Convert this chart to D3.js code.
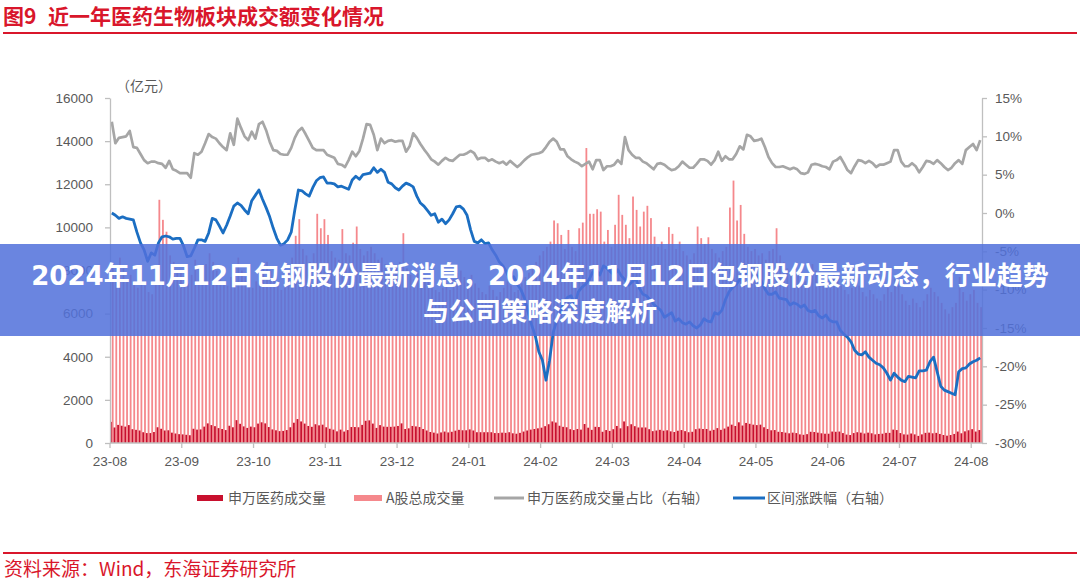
<!DOCTYPE html>
<html><head><meta charset="utf-8">
<script src="https://cdn.jsdelivr.net/npm/d3@7"></script>
<style>
html,body{margin:0;padding:0;background:#fff;}
svg{display:block;}
</style></head><body>
<svg id="chart" width="1080" height="583"></svg>
<script>
const titleText = ["图9", "近一年医药生物板块成交额变化情况"];
const sourceText = "资料来源：Wind，东海证券研究所";
const unitText = "（亿元）";
const bannerLines = ["2024年11月12日包钢股份最新消息，2024年11月12日包钢股份最新动态，行业趋势", "与公司策略深度解析"];
const seriesNames = ["申万医药成交量", "A股总成交量", "申万医药成交量占比（右轴）", "区间涨跌幅（右轴）"];
const tickLabels = ["23-08","23-09","23-10","23-11","23-12","24-01","24-02","24-03","24-04","24-05","24-06","24-07","24-08"];
const tickEvery = 20;
const leftTicks = [0,2000,4000,6000,8000,10000,12000,14000,16000];
const rightTicks = [-30,-25,-20,-15,-10,-5,0,5,10,15];

// A股总成交量 (亿元), one per trading day
const totalVolume = [8200,7900,8600,8100,7600,7800,7400,7200,7500,7300,
7000,6900,7600,11280,10350,9800,8700,8400,8000,7900,
7600,7400,7800,8500,8100,7900,8300,8800,8400,8000,
7600,7500,7300,7700,8200,8600,8000,7700,7400,7200,
7500,7800,8100,8400,8000,7700,7300,7100,7400,7900,
8600,9610,10380,9000,8700,8400,8800,10630,9960,10380,
9650,8900,8600,8500,9920,8800,8700,9290,10040,9000,
8700,8900,9100,8800,8500,8600,8300,8000,7900,8200,
8400,9730,8100,7800,7600,7900,8200,7800,7500,7300,
7100,7000,7200,7400,7100,7600,7900,8000,7700,7500,
7800,7400,7200,7000,6900,7300,7100,6800,7000,7200,
7500,7300,7000,7100,7400,7700,7900,8200,8400,8700,
8900,9100,9340,10320,10190,9650,9000,9880,9100,8900,
9960,10220,13680,10630,10630,10840,10730,9340,9880,9100,
10120,11510,10580,10120,9500,11430,10810,10040,10730,11000,
10430,9570,9100,9340,9000,10010,9700,9000,9340,8900,
8700,8500,8800,10040,9500,9230,9540,9000,8800,8600,
8900,9100,10920,12170,10320,11040,9700,9100,8900,9000,
8700,8800,8500,8900,9000,9960,8700,8400,8100,7900,
8200,8000,7700,7500,7800,8300,8000,7600,7400,7200,
7500,7900,7600,7300,7100,6900,7200,7500,7300,7000,
6800,7100,6900,6700,6600,6900,7200,7000,7600,7300,
6900,6600,6400,6700,6500,6300,6600,6900,7200,7000,
6800,6500,6200,6000,6300,6500,7700,7000,6600,6900,
7100,6500,6300];

// 申万医药成交量 (亿元)
const medVolume = [980,720,840,800,760,830,640,610,580,500,
460,460,510,730,660,580,590,480,440,410,
400,380,360,660,620,630,760,910,830,780,
690,650,600,800,730,1060,890,770,700,760,
730,900,960,910,740,630,590,550,560,600,
730,940,1110,1000,900,790,750,870,820,850,
730,660,620,540,620,530,600,740,740,730,
840,1030,1050,900,700,830,760,750,750,760,
790,910,650,680,790,770,740,650,580,510,
480,440,490,530,490,520,570,610,590,590,
630,580,500,500,500,500,500,460,460,480,
470,500,450,430,470,530,580,620,650,680,
710,780,870,1000,950,800,750,730,640,600,
650,620,880,710,610,750,740,520,600,560,
640,790,680,1000,780,870,780,720,720,720,
640,550,580,610,570,590,540,510,570,600,
550,500,520,640,670,650,650,570,610,690,
610,670,760,850,790,960,810,930,890,850,
830,850,730,650,590,600,520,510,480,450,
480,460,400,380,410,520,510,480,450,430,
430,530,520,530,460,390,370,460,500,480,
440,480,450,400,420,430,470,470,620,600,
460,400,390,440,400,330,400,470,480,450,
470,420,370,340,370,420,530,450,540,590,
640,530,600];

// 申万医药成交量占比 (%), right axis
const medShare = [11.9,9.1,9.8,9.9,10.0,10.7,8.6,8.5,7.7,6.9,
6.5,6.7,6.7,6.5,6.4,5.9,6.8,5.7,5.5,5.2,
5.2,5.2,4.6,7.8,7.6,8.0,9.1,10.3,9.9,9.7,
9.1,8.6,8.2,10.4,8.9,12.3,11.1,10.0,9.5,10.6,
9.7,11.6,11.9,10.8,9.3,8.2,8.1,7.7,7.6,7.6,
8.5,9.8,10.7,11.1,10.3,9.4,8.5,8.2,8.2,8.2,
7.6,7.4,7.2,6.4,6.3,6.0,6.9,8.0,7.4,8.1,
9.7,11.6,11.5,10.2,8.2,9.7,9.1,9.4,9.5,9.3,
9.4,9.4,8.0,8.7,10.4,9.8,9.0,8.3,7.7,7.0,
6.7,6.3,6.8,7.2,6.9,6.8,7.2,7.6,7.6,7.8,
8.1,7.8,7.0,7.2,7.2,6.8,7.0,6.7,6.5,6.7,
6.3,6.8,6.4,6.0,6.4,6.9,7.3,7.6,7.7,7.8,
8.0,8.6,9.3,9.7,9.3,8.3,8.3,7.4,7.0,6.7,
6.5,6.1,6.4,6.7,5.7,6.9,6.9,5.6,6.1,6.1,
6.3,6.9,6.4,9.9,8.2,7.6,7.2,7.2,6.7,6.5,
6.1,5.7,6.4,6.5,6.3,5.9,5.6,5.7,6.1,6.7,
6.3,5.9,5.9,6.4,7.0,7.0,6.8,6.3,6.9,8.0,
6.8,7.4,7.0,7.0,7.7,8.7,8.3,10.2,10.0,9.4,
9.5,9.7,8.6,7.3,6.5,6.0,6.0,6.1,5.9,5.7,
5.9,5.7,5.2,5.1,5.3,6.3,6.4,6.3,6.1,6.0,
5.7,6.7,6.9,7.3,6.5,5.6,5.2,6.1,6.9,6.8,
6.5,6.8,6.5,6.0,6.3,6.3,6.5,6.7,8.2,8.2,
6.7,6.1,6.1,6.5,6.1,5.3,6.0,6.8,6.7,6.4,
6.9,6.5,6.0,5.6,5.9,6.5,6.9,6.4,8.2,8.6,
9.0,8.2,9.5];

// 区间涨跌幅 (%), right axis
const intervalReturn = [0.0,-0.3,-0.7,-0.5,-0.7,-0.8,-0.9,-2.5,-3.9,-4.8,
-6.3,-5.2,-5.5,-3.9,-3.1,-3.0,-3.1,-3.4,-3.3,-3.3,
-4.3,-5.7,-5.6,-4.6,-3.5,-3.5,-3.7,-2.6,-0.7,-0.9,
-1.7,-2.6,-1.6,-0.4,0.9,1.3,1.0,0.4,-0.1,1.6,
2.3,3.0,1.8,0.7,-0.5,-2.0,-3.3,-4.2,-4.0,-3.5,
-2.5,0.4,3.0,2.9,2.5,2.2,3.3,4.2,4.6,4.7,
3.9,3.9,3.8,3.4,3.5,3.3,3.1,4.3,4.8,4.4,
5.0,5.1,5.2,5.9,5.3,5.7,5.3,4.0,3.8,3.3,
3.0,3.5,3.9,3.7,3.4,2.2,1.3,0.9,0.3,-0.3,
-0.1,-1.2,-0.8,-1.4,-0.9,-0.1,0.8,0.9,0.5,-0.3,
-2.2,-3.7,-3.9,-3.5,-4.0,-3.9,-4.8,-5.5,-6.4,-6.9,
-7.7,-8.7,-8.3,-9.3,-10.0,-11.1,-12.9,-14.6,-16.0,-18.1,
-19.2,-21.8,-19.2,-15.6,-14.0,-12.9,-11.6,-11.0,-10.8,-12.0,
-10.3,-9.7,-9.3,-8.7,-7.7,-7.4,-8.1,-6.9,-7.2,-7.7,
-8.1,-7.4,-8.2,-8.7,-9.4,-9.0,-8.5,-9.8,-10.6,-10.8,
-11.3,-11.9,-12.3,-12.7,-13.6,-13.3,-13.0,-14.1,-13.8,-14.3,
-14.5,-14.2,-14.7,-15.0,-14.6,-13.8,-14.1,-14.2,-13.0,-13.2,
-12.7,-11.3,-10.3,-9.7,-9.3,-8.7,-8.3,-7.7,-7.2,-7.8,
-8.3,-8.9,-9.9,-10.6,-10.6,-10.3,-11.1,-11.2,-11.3,-12.0,
-11.7,-11.9,-12.3,-12.0,-12.7,-12.9,-12.7,-13.4,-13.7,-13.3,
-14.0,-14.2,-14.2,-15.3,-15.8,-16.2,-16.8,-17.9,-18.4,-18.5,
-18.1,-18.8,-19.2,-19.6,-19.8,-20.2,-20.9,-21.8,-20.9,-21.4,
-21.8,-22.0,-21.3,-21.4,-21.5,-20.6,-20.6,-20.5,-19.4,-18.8,
-20.7,-22.6,-23.1,-23.3,-23.5,-23.7,-20.7,-20.3,-20.2,-19.7,
-19.4,-19.2,-18.9];

const colors = {med:"#c8102e", total:"#f5888c", share:"#a6a6a6", ret:"#1b6ec2", red:"#d9162b", text:"#595959", axis:"#bfbfbf"};
const cjk = "'Noto Sans CJK SC', 'Noto Sans', sans-serif";
const latin = "'Liberation Sans', Arial, sans-serif";
const bannerFont = "'DejaVu Sans', 'Noto Sans CJK SC', sans-serif";

const N = totalVolume.length;
const days = d3.range(N);
const svg = d3.select("#chart");
svg.append("rect").attr("width",1080).attr("height",583).attr("fill","#fff");

const plot = {left:110, right:982, top:98, bottom:443};
const x = d3.scaleBand().domain(days).range([plot.left, plot.right]).padding(0);
const sub = d3.scaleBand().domain(["med","total"]).range([0, x.bandwidth()]).padding(0);
const yL = d3.scaleLinear().domain([0,16000]).range([plot.bottom, plot.top]);
const yR = d3.scaleLinear().domain([-30,15]).range([plot.bottom, plot.top]);

// title
const t = svg.append("text").attr("y",24).attr("fill",colors.red).attr("font-family",cjk)
  .attr("font-weight",700).attr("font-size","21px");
t.append("tspan").attr("x",3).text(titleText[0]);
t.append("tspan").attr("x",48).text(titleText[1]);
svg.append("rect").attr("x",3).attr("y",32).attr("width",1074).attr("height",2).attr("fill",colors.red);

// bars
const barG = svg.append("g");
barG.selectAll("rect.total").data(days).join("rect").attr("class","total")
  .attr("x", i => x(i) + sub("total")).attr("width", sub.bandwidth())
  .attr("y", i => yL(totalVolume[i])).attr("height", i => yL(0) - yL(totalVolume[i]))
  .attr("fill", colors.total);
barG.selectAll("rect.med").data(days).join("rect").attr("class","med")
  .attr("x", i => x(i) + sub("med")).attr("width", sub.bandwidth())
  .attr("y", i => yL(medVolume[i])).attr("height", i => yL(0) - yL(medVolume[i]))
  .attr("fill", colors.med);

// lines
const cx = i => x(i) + x.bandwidth()/2;
svg.append("path").datum(days).attr("fill","none").attr("stroke",colors.share)
  .attr("stroke-width",2.7).attr("stroke-linejoin","round")
  .attr("d", d3.line().x(cx).y(i => yR(medShare[i])));
svg.append("path").datum(days).attr("fill","none").attr("stroke",colors.ret)
  .attr("stroke-width",2.8).attr("stroke-linejoin","round")
  .attr("d", d3.line().x(cx).y(i => yR(intervalReturn[i])));

// axes
function styleAxis(g){
  g.select(".domain").attr("stroke",colors.axis).attr("stroke-width",1.3);
  g.selectAll(".tick line").attr("stroke",colors.axis).attr("stroke-width",1.3);
  g.selectAll(".tick text").attr("fill",colors.text).attr("font-family",latin).attr("font-size","13.5px");
}
svg.append("g").attr("transform",`translate(${plot.left},0)`)
  .call(d3.axisLeft(yL).tickValues(leftTicks).tickSize(5).tickSizeOuter(0).tickPadding(12).tickFormat(d3.format("d")))
  .call(styleAxis);
svg.append("g").attr("transform",`translate(${plot.right},0)`)
  .call(d3.axisRight(yR).tickValues(rightTicks).tickSize(5).tickSizeOuter(0).tickPadding(8).tickFormat(d => d + "%"))
  .call(styleAxis);
const xTickIdx = tickLabels.map((_, k) => k * tickEvery);
const xa = svg.append("g").attr("transform",`translate(0,${plot.bottom})`)
  .call(d3.axisBottom(x).tickValues(xTickIdx).tickSize(5).tickSizeOuter(0).tickPadding(8)
    .tickFormat(i => tickLabels[i / tickEvery]))
  .call(styleAxis);
xa.selectAll(".tick").attr("transform", i => `translate(${x(i)},0)`);
xa.select(".domain").attr("d", `M${plot.left},0H${plot.right}`);

// unit label
svg.append("text").attr("x",116).attr("y",91).attr("fill",colors.text)
  .attr("font-family",cjk).attr("font-size","14px").text(unitText);

// legend
const lg = svg.append("g").attr("font-family",cjk).attr("font-size","14px").attr("fill",colors.text);
const ly = 498;
lg.append("rect").attr("x",197).attr("y",ly-3).attr("width",26).attr("height",6).attr("fill",colors.med);
lg.append("text").attr("x",228).attr("y",ly+5).text(seriesNames[0]);
lg.append("rect").attr("x",354).attr("y",ly-3).attr("width",28).attr("height",6).attr("fill",colors.total);
lg.append("text").attr("x",386).attr("y",ly+5).text(seriesNames[1]);
lg.append("line").attr("x1",494).attr("x2",524).attr("y1",ly).attr("y2",ly).attr("stroke",colors.share).attr("stroke-width",3);
lg.append("text").attr("x",527).attr("y",ly+5).text(seriesNames[2]);
lg.append("line").attr("x1",733).attr("x2",765).attr("y1",ly).attr("y2",ly).attr("stroke",colors.ret).attr("stroke-width",3);
lg.append("text").attr("x",767).attr("y",ly+5).text(seriesNames[3]);

// footer
svg.append("rect").attr("x",3).attr("y",552).attr("width",1074).attr("height",2).attr("fill",colors.red);
svg.append("text").attr("x",4).attr("y",576).attr("fill",colors.red).attr("font-family",cjk)
  .attr("font-size","19px").text(sourceText);

// overlay banner
svg.append("rect").attr("x",0).attr("y",244).attr("width",1080).attr("height",92)
  .attr("fill","rgba(81,113,219,0.86)");
const bt = svg.append("g").attr("font-weight",700).attr("font-size","26px")
  .attr("fill","#fff").attr("text-anchor","middle");
bt.append("text").attr("x",540).attr("y",285).attr("font-family",bannerFont).text(bannerLines[0]);
bt.append("text").attr("x",540).attr("y",321).attr("font-family",cjk).text(bannerLines[1]);
</script>
</body></html>
